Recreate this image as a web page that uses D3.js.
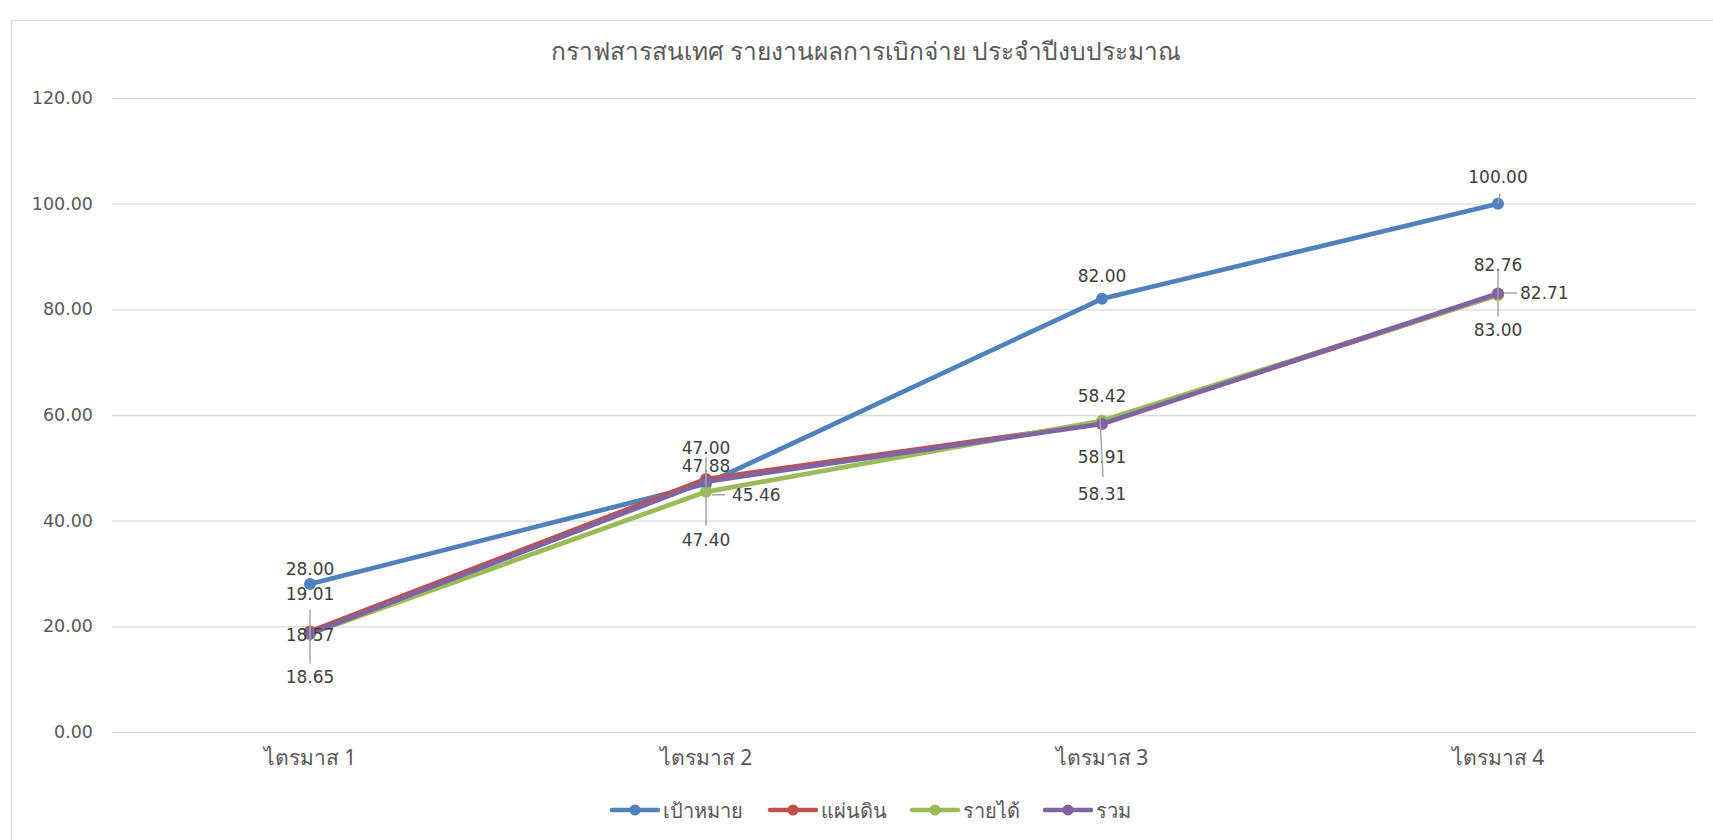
<!DOCTYPE html>
<html>
<head>
<meta charset="utf-8">
<script src="https://cdn.jsdelivr.net/npm/d3@7"></script>
<style>
    html, body { margin: 0; padding: 0; background: #fff; }
    #chart { width: 1713px; height: 840px; }
    text { font-family: "Noto Sans", "Open Sans", sans-serif; }
    .num { font-family: "DejaVu Sans", "Noto Sans", sans-serif; }
</style>
</head>
<body>
<div id="chart"></div>
<script>
// Chart data
const title = 'กราฟสารสนเทศ รายงานผลการเบิกจ่าย ประจำปีงบประมาณ';
const quarters = ['ไตรมาส 1', 'ไตรมาส 2', 'ไตรมาส 3', 'ไตรมาส 4'];
const seriesNames = ['เป้าหมาย', 'แผ่นดิน', 'รายได้', 'รวม'];
const target = [28.00, 47.00, 82.00, 100.00];
const land = [19.01, 47.88, 58.42, 82.76];
const income = [18.57, 45.46, 58.91, 82.71];
const total = [18.65, 47.40, 58.31, 83.00];
const yTicks = [0, 20, 40, 60, 80, 100, 120];

const seriesValues = [target, land, income, total];
const colors = ['#4F81BD', '#C0504D', '#9BBB59', '#8064A2'];

// Label placement per series / quarter: [dx, dy, leader]
// leader: 'v' vertical line, 'h' horizontal line, null none
const labelPlacement = [
    [[0, -15, null], [0, -36, null], [0, -23, null], [0, -27, 'up']],
    [[0, -38, null], [0, -13, null], [0, -27, null], [0, -30, null]],
    [[0, 1, null], [26, 3, 'h'], [0, 36, null], [22, -2, 'h']],
    [[0, 44, 'v'], [0, 58, 'v'], [0, 70, 'v2'], [0, 37, 'v']]
];

document.addEventListener('DOMContentLoaded', () => {
    const width = 1713;
    const height = 840;
    const margin = { top: 98, right: 17, bottom: 108, left: 112 };

    const svg = d3.select('#chart')
        .append('svg')
        .attr('width', width)
        .attr('height', height);

    // Chart border
    svg.append('rect')
        .attr('x', 11.5)
        .attr('y', 20.5)
        .attr('width', width + 20)
        .attr('height', height)
        .attr('fill', 'none')
        .attr('stroke', '#d9d9d9');

    const x = d3.scaleBand()
        .domain(quarters)
        .range([margin.left, width - margin.right]);

    const y = d3.scaleLinear()
        .domain([0, 120])
        .range([height - margin.bottom, margin.top]);

    // Title
    svg.append('text')
        .attr('x', 866)
        .attr('y', 50)
        .attr('text-anchor', 'middle')
        .attr('dominant-baseline', 'central')
        .attr('font-size', 24.5)
        .attr('fill', '#595959')
        .text(title);

    // Gridlines + y labels
    const yAxis = d3.axisLeft(y)
        .tickValues(yTicks)
        .tickSize(-(width - margin.left - margin.right))
        .tickPadding(19)
        .tickFormat(d3.format('.2f'));

    const gy = svg.append('g')
        .attr('transform', `translate(${margin.left},0)`)
        .call(yAxis);
    gy.select('.domain').remove();
    gy.selectAll('line').attr('stroke', '#d9d9d9').attr('stroke-width', 1.3);
    gy.selectAll('text')
        .attr('class', 'num')
        .attr('font-size', 17.5)
        .attr('fill', '#595959')
        .attr('font-family', null);

    // x labels
    const xAxis = d3.axisBottom(x).tickSize(0).tickPadding(18);
    const gx = svg.append('g')
        .attr('transform', `translate(0,${height - margin.bottom})`)
        .call(xAxis);
    gx.select('.domain').remove();
    gx.selectAll('text')
        .attr('font-size', 21)
        .attr('fill', '#595959')
        .attr('font-family', null);

    const cx = q => x(q) + x.bandwidth() / 2;

    const line = d3.line()
        .x((d, i) => cx(quarters[i]))
        .y(d => y(d));

    // Lines and markers
    seriesValues.forEach((vals, s) => {
        svg.append('path')
            .datum(vals)
            .attr('fill', 'none')
            .attr('stroke', colors[s])
            .attr('stroke-width', 4.7)
            .attr('stroke-linejoin', 'round')
            .attr('stroke-linecap', 'round')
            .attr('d', line);

        svg.selectAll(null)
            .data(vals)
            .enter()
            .append('circle')
            .attr('cx', (d, i) => cx(quarters[i]))
            .attr('cy', d => y(d))
            .attr('r', 6)
            .attr('fill', colors[s]);
    });

    // Data labels with leader lines
    const labels = svg.append('g');
    seriesValues.forEach((vals, s) => {
        vals.forEach((v, i) => {
            const px = cx(quarters[i]);
            const py = y(v);
            const [dx, dy, leader] = labelPlacement[s][i];
            if (leader === 'v') {
                labels.append('line')
                    .attr('x1', px).attr('x2', px)
                    .attr('y1', py - 24).attr('y2', py + dy - 14)
                    .attr('stroke', '#a6a6a6').attr('stroke-width', 1.5);
            } else if (leader === 'v2') {
                labels.append('line')
                    .attr('x1', px - 2).attr('x2', px + 1)
                    .attr('y1', py - 6).attr('y2', py + 53)
                    .attr('stroke', '#a6a6a6').attr('stroke-width', 1.5);
            } else if (leader === 'h') {
                labels.append('line')
                    .attr('x1', px + 6).attr('x2', px + 19)
                    .attr('y1', py + dy).attr('y2', py + dy)
                    .attr('stroke', '#a6a6a6').attr('stroke-width', 1.5);
            } else if (leader === 'up') {
                labels.append('line')
                    .attr('x1', px).attr('x2', px + 2)
                    .attr('y1', py).attr('y2', py - 10)
                    .attr('stroke', '#a6a6a6').attr('stroke-width', 1.5);
            }
            labels.append('text')
                .attr('class', 'num')
                .attr('x', px + dx)
                .attr('y', py + dy)
                .attr('text-anchor', dx > 0 ? 'start' : 'middle')
                .attr('dominant-baseline', 'central')
                .attr('font-size', 17)
                .attr('fill', '#404040')
                .text(d3.format('.2f')(v));
        });
    });

    // Legend
    const legendX = [610, 768, 910, 1043];
    const legend = svg.append('g');
    seriesNames.forEach((name, s) => {
        const lg = legend.append('g')
            .attr('transform', `translate(${legendX[s]},810)`);
        lg.append('line')
            .attr('x1', 2).attr('x2', 48)
            .attr('stroke', colors[s])
            .attr('stroke-width', 4.5)
            .attr('stroke-linecap', 'round');
        lg.append('circle')
            .attr('cx', 25)
            .attr('r', 5.5)
            .attr('fill', colors[s]);
        lg.append('text')
            .attr('x', 53)
            .attr('dominant-baseline', 'central')
            .attr('font-size', 20)
            .attr('fill', '#595959')
            .text(name);
    });
});
</script>
</body>
</html>
